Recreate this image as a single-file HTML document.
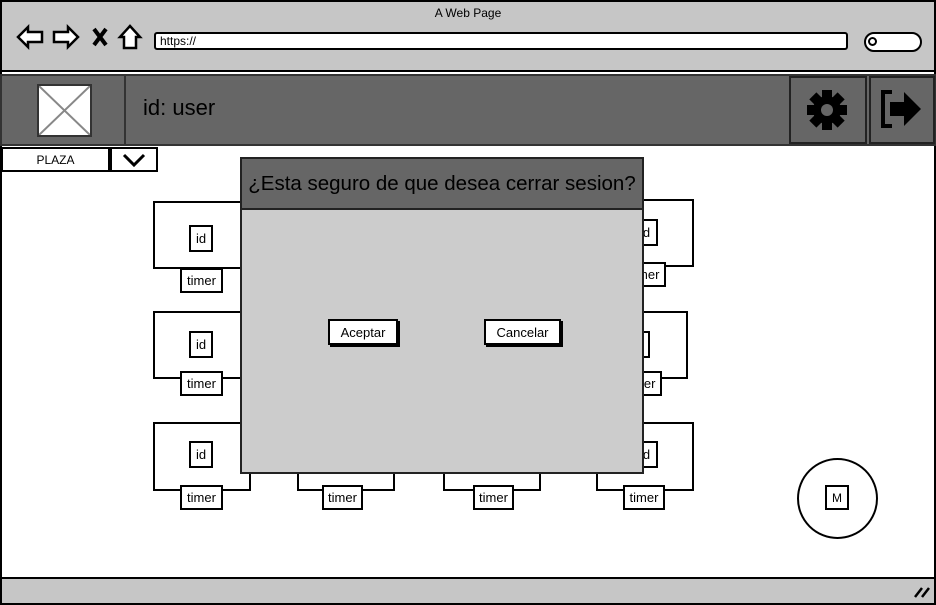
<!DOCTYPE html>
<html><head><meta charset="utf-8"><style>
*{box-sizing:border-box;margin:0;padding:0}
body{width:936px;height:605px;position:relative;overflow:hidden;background:#fff;font-family:"Liberation Sans",sans-serif;color:#000}
.a{position:absolute}
.b{position:absolute;border:2px solid #000;background:#fff}
.t{display:flex;align-items:center;justify-content:center;font-size:13px}
</style></head><body>
<div class="a" style="left:0;top:0;width:936px;height:605px;border:2px solid #000"></div>
<div class="a" style="left:2px;top:2px;width:932px;height:70px;background:#c6c6c6;border-bottom:2px solid #000"></div>
<div class="a" style="left:0;top:6px;width:936px;text-align:center;font-size:12px">A Web Page</div>
<svg class="a" style="left:14px;top:22px" width="130" height="30" viewBox="0 0 130 30">
<path d="M4 15 L14 5 L14 10 L28 10 L28 20 L14 20 L14 25 Z" fill="#fff" stroke="#000" stroke-width="2.5"/>
<path d="M64 15 L54 5 L54 10 L40 10 L40 20 L54 20 L54 25 Z" fill="#fff" stroke="#000" stroke-width="2.5"/>
<path d="M80 7 L92 23 M92 7 L80 23" stroke="#000" stroke-width="4"/>
<path d="M116 4 L106 15 L110 15 L110 26 L122 26 L122 15 L126 15 Z" fill="#fff" stroke="#000" stroke-width="2.5"/>
</svg>
<div class="b" style="left:154px;top:32px;width:694px;height:18px;border-radius:3px;font-size:12px;padding-left:4px;line-height:14px">https://</div>
<div class="b" style="left:864px;top:32px;width:58px;height:20px;border-radius:10px"></div>
<div class="a" style="left:868px;top:37px;width:9px;height:9px;border:2px solid #000;border-radius:50%"></div>
<div class="a" style="left:0;top:74px;width:936px;height:72px;background:#666;border:2px solid #333"></div>
<div class="a" style="left:0;top:74px;width:126px;height:72px;border:2px solid #333"></div>
<div class="a" style="left:37px;top:84px;width:55px;height:53px;background:#fff;border:2px solid #333"></div>
<svg class="a" style="left:39px;top:86px" width="51" height="49"><path d="M0 0 L51 49 M51 0 L0 49" stroke="#888" stroke-width="2"/></svg>
<div class="a" style="left:143px;top:95px;font-size:22px">id: user</div>
<div class="a" style="left:789px;top:76px;width:78px;height:68px;border:2px solid #222"></div>
<div class="a" style="left:869px;top:76px;width:66px;height:68px;border:2px solid #222"></div>
<svg class="a" style="left:806px;top:89px" width="42" height="42" viewBox="0 0 42 42"><g fill="#000"><circle cx="21" cy="21" r="14"/><rect x="16" y="1" width="10" height="40"/><rect x="1" y="16" width="40" height="10"/><rect x="16" y="1" width="10" height="40" transform="rotate(45 21 21)"/><rect x="16" y="1" width="10" height="40" transform="rotate(-45 21 21)"/></g><circle cx="21" cy="21" r="6" fill="#666"/></svg>
<svg class="a" style="left:878px;top:88px" width="46" height="42" viewBox="0 0 46 42"><path d="M14 4 L5 4 L5 38 L14 38" fill="none" stroke="#000" stroke-width="4"/><path d="M12 14 L26 14 L26 4 L43 21 L26 38 L26 28 L12 28 Z" fill="#000"/></svg>
<div class="b t" style="left:1px;top:147px;width:109px;height:25px;font-size:12px">PLAZA</div>
<div class="b" style="left:110px;top:147px;width:48px;height:25px"></div>
<svg class="a" style="left:122px;top:152px" width="24" height="16"><path d="M2 3 L12 13 L22 3" fill="none" stroke="#000" stroke-width="3"/></svg>
<div class="b" style="left:153px;top:201px;width:98px;height:68px"></div>
<div class="b" style="left:153px;top:311px;width:98px;height:68px"></div>
<div class="b" style="left:153px;top:422px;width:98px;height:69px"></div>
<div class="b" style="left:297px;top:422px;width:98px;height:69px"></div>
<div class="b" style="left:443px;top:422px;width:98px;height:69px"></div>
<div class="b" style="left:596px;top:199px;width:98px;height:68px"></div>
<div class="b" style="left:596px;top:311px;width:92px;height:68px"></div>
<div class="b" style="left:596px;top:422px;width:98px;height:69px"></div>
<div class="b t" style="left:189px;top:225px;width:24px;height:27px">id</div>
<div class="b t" style="left:189px;top:331px;width:24px;height:27px">id</div>
<div class="b t" style="left:189px;top:441px;width:24px;height:27px">id</div>
<div class="b t" style="left:632px;top:219px;width:26px;height:27px">id</div>
<div class="b t" style="left:626px;top:331px;width:24px;height:27px">id</div>
<div class="b t" style="left:632px;top:441px;width:26px;height:27px">id</div>
<div class="b t" style="left:180px;top:268px;width:43px;height:25px">timer</div>
<div class="b t" style="left:180px;top:371px;width:43px;height:25px">timer</div>
<div class="b t" style="left:180px;top:485px;width:43px;height:25px">timer</div>
<div class="b t" style="left:322px;top:485px;width:41px;height:25px">timer</div>
<div class="b t" style="left:473px;top:485px;width:41px;height:25px">timer</div>
<div class="b t" style="left:623px;top:485px;width:42px;height:25px">timer</div>
<div class="b t" style="left:624px;top:262px;width:42px;height:25px">timer</div>
<div class="b t" style="left:620px;top:371px;width:42px;height:25px">timer</div>
<div class="a" style="left:240px;top:157px;width:404px;height:317px;background:#ccc;border:2px solid #222"></div>
<div class="a" style="left:240px;top:157px;width:404px;height:53px;background:#666;border:2px solid #222;font-size:20.5px;display:flex;align-items:center;justify-content:center;white-space:nowrap">¿Esta seguro de que desea cerrar sesion?</div>
<div class="b t" style="left:328px;top:319px;width:70px;height:26px;box-shadow:2px 2px 0 #000">Aceptar</div>
<div class="b t" style="left:484px;top:319px;width:77px;height:26px;box-shadow:2px 2px 0 #000">Cancelar</div>
<div class="a" style="left:797px;top:458px;width:81px;height:81px;border:2px solid #000;border-radius:50%"></div>
<div class="b t" style="left:825px;top:485px;width:24px;height:25px;font-size:12px">M</div>
<div class="a" style="left:2px;top:577px;width:932px;height:26px;background:#c6c6c6;border-top:2px solid #000"></div>
<svg class="a" style="left:912px;top:584px" width="20" height="16"><path d="M3 13 L10 4 M10 13 L17 4" stroke="#000" stroke-width="2.5"/></svg>
</body></html>
